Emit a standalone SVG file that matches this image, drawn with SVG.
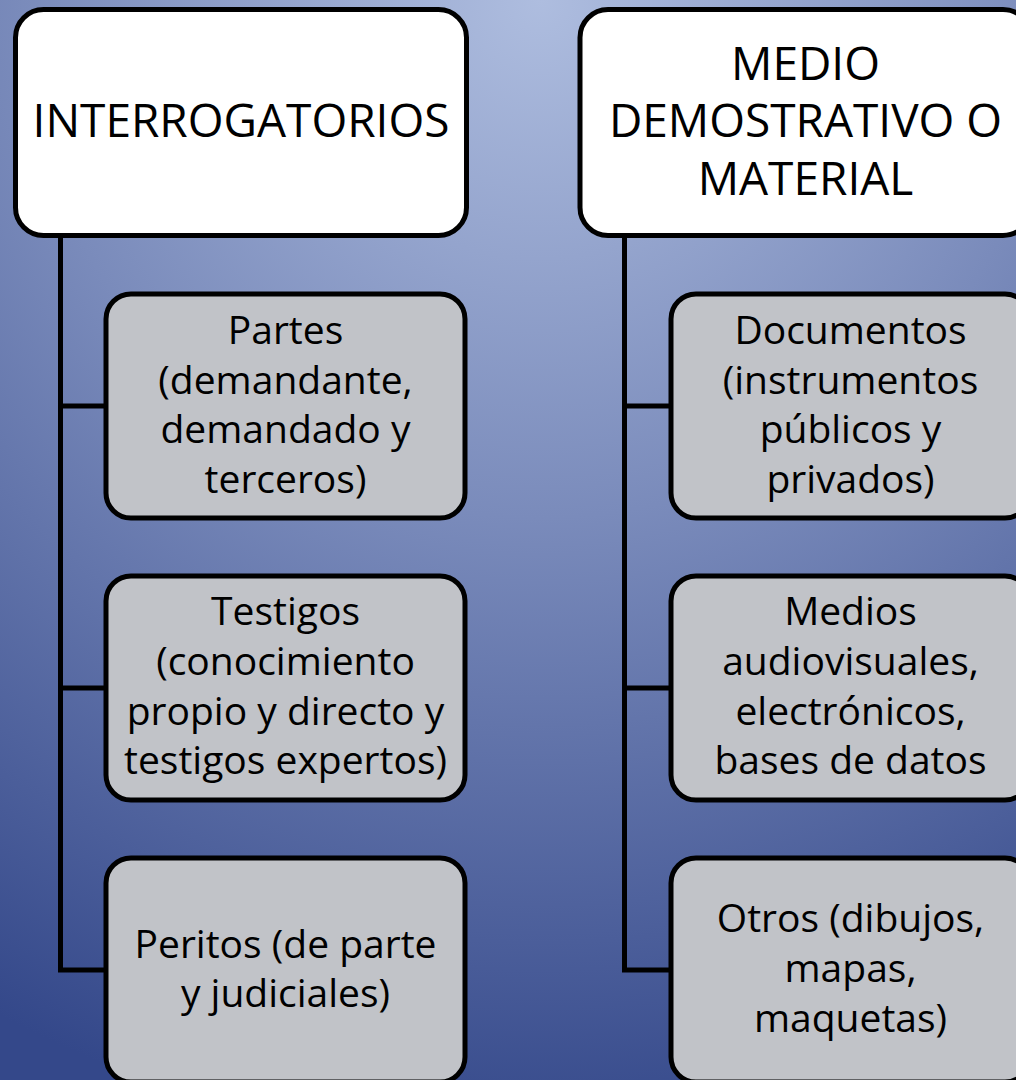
<svg xmlns="http://www.w3.org/2000/svg" width="1016" height="1080" viewBox="0 0 1016 1080">
  <defs>
    <radialGradient id="bg" cx="540" cy="0" r="1150" gradientUnits="userSpaceOnUse">
      <stop offset="0" stop-color="#aebddf"/>
      <stop offset="0.45" stop-color="#7a8bbb"/>
      <stop offset="1" stop-color="#34488a"/>
    </radialGradient>
    <style>
      .title { fill: #ffffff; stroke: #000000; stroke-width: 5; }
      .child { fill: #c1c3c8; stroke: #000000; stroke-width: 5; }
      .conn { fill: none; stroke: #000000; stroke-width: 5; stroke-linejoin: miter; }
      .tt { font-family: "Open Sans", "Liberation Sans", sans-serif; font-size: 46px; fill: #000000; text-anchor: middle; }
      .ct { font-family: "Open Sans", "Liberation Sans", sans-serif; font-size: 39px; fill: #000000; text-anchor: middle; }
    </style>
  </defs>
  <rect x="0" y="0" width="1016" height="1080" fill="url(#bg)"/>

  <g id="connectors">
    <path class="conn" d="M60.5,236 V970 H106"/>
    <path class="conn" d="M60.5,406 H106"/>
    <path class="conn" d="M60.5,688 H106"/>
    <path class="conn" d="M624.5,236 V970 H671"/>
    <path class="conn" d="M624.5,406 H671"/>
    <path class="conn" d="M624.5,688 H671"/>
  </g>

  <g id="interrogatorios">
    <rect class="title" x="15.5" y="9.5" width="451" height="226" rx="28"/>
    <text class="tt" x="241" y="137">INTERROGATORIOS</text>
  </g>
  <g id="medio">
    <rect class="title" x="580" y="9.5" width="451" height="226" rx="28"/>
    <text class="tt" x="805.5"><tspan x="805.5" y="80">MEDIO</tspan><tspan x="805.5" y="137">DEMOSTRATIVO O</tspan><tspan x="805.5" y="195">MATERIAL</tspan></text>
  </g>

  <g id="partes">
    <rect class="child" x="106" y="294" width="359" height="224" rx="25"/>
    <text class="ct"><tspan x="285.5" y="344">Partes</tspan><tspan x="285.5" y="394">(demandante,</tspan><tspan x="285.5" y="443">demandado y</tspan><tspan x="285.5" y="493">terceros)</tspan></text>
  </g>
  <g id="testigos">
    <rect class="child" x="106" y="576" width="359" height="224" rx="25"/>
    <text class="ct"><tspan x="285.5" y="625">Testigos</tspan><tspan x="285.5" y="675">(conocimiento</tspan><tspan x="285.5" y="725">propio y directo y</tspan><tspan x="285.5" y="774">testigos expertos)</tspan></text>
  </g>
  <g id="peritos">
    <rect class="child" x="106" y="858" width="359" height="224" rx="25"/>
    <text class="ct"><tspan x="285.5" y="958">Peritos (de parte</tspan><tspan x="285.5" y="1007">y judiciales)</tspan></text>
  </g>

  <g id="documentos">
    <rect class="child" x="671" y="294" width="359" height="224" rx="25"/>
    <text class="ct"><tspan x="850.5" y="344">Documentos</tspan><tspan x="850.5" y="394">(instrumentos</tspan><tspan x="850.5" y="443">públicos y</tspan><tspan x="850.5" y="493">privados)</tspan></text>
  </g>
  <g id="medios">
    <rect class="child" x="671" y="576" width="359" height="224" rx="25"/>
    <text class="ct"><tspan x="850.5" y="625">Medios</tspan><tspan x="850.5" y="675">audiovisuales,</tspan><tspan x="850.5" y="725">electrónicos,</tspan><tspan x="850.5" y="774">bases de datos</tspan></text>
  </g>
  <g id="otros">
    <rect class="child" x="671" y="858" width="359" height="224" rx="25"/>
    <text class="ct"><tspan x="850.5" y="932">Otros (dibujos,</tspan><tspan x="850.5" y="982">mapas,</tspan><tspan x="850.5" y="1032">maquetas)</tspan></text>
  </g>
</svg>
